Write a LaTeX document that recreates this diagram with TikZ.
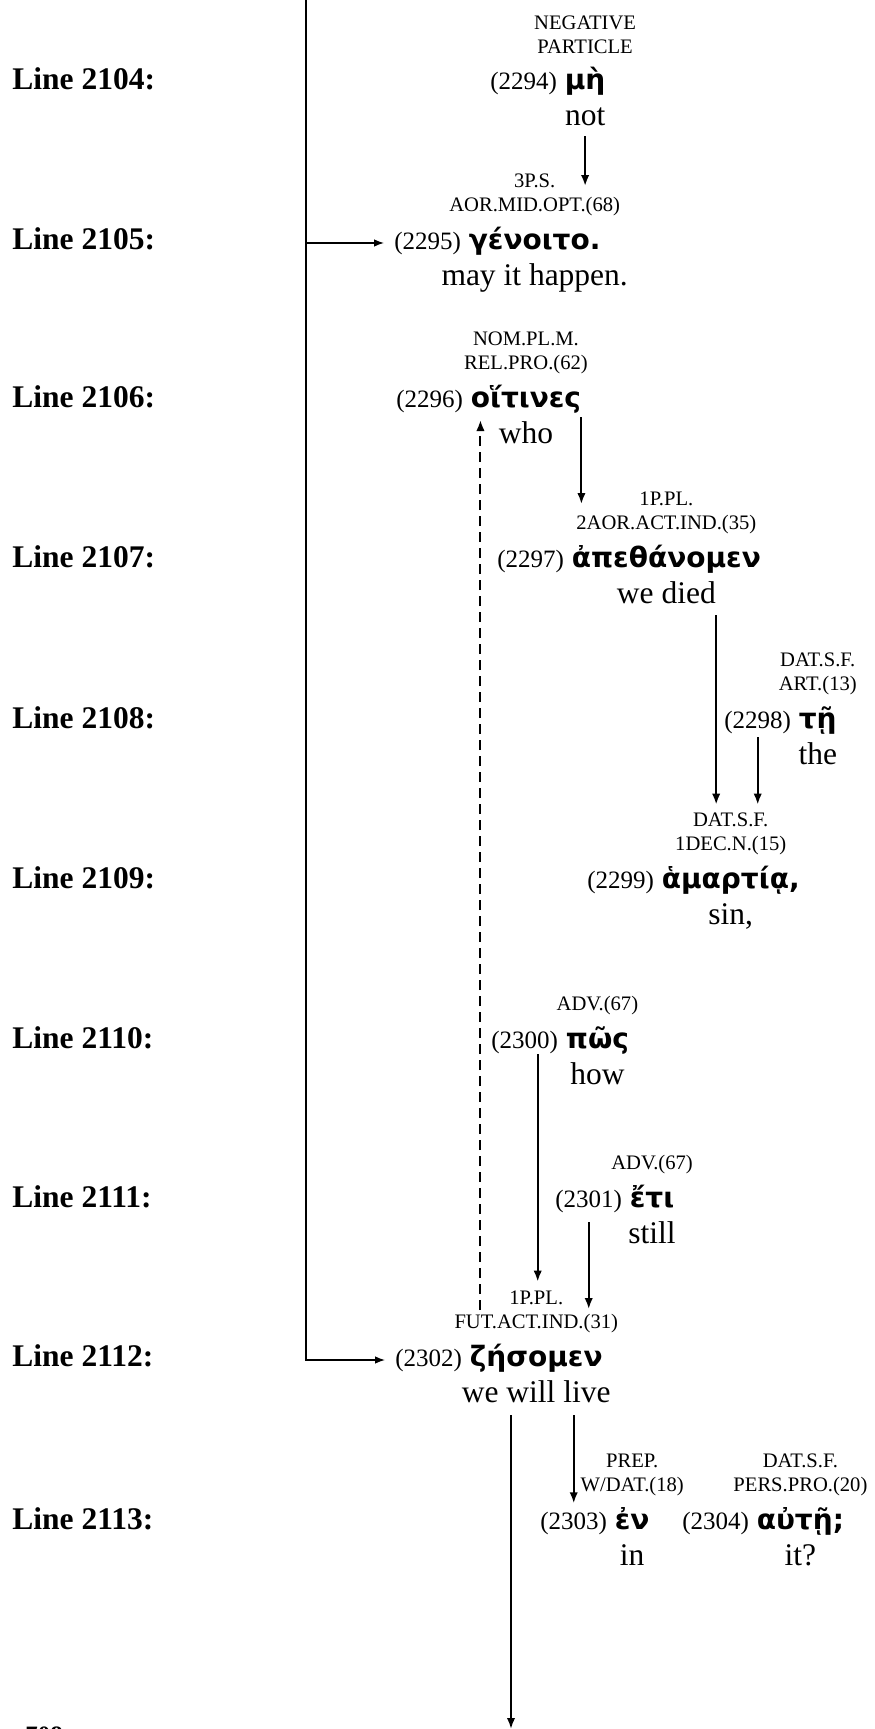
\documentclass[tikz,border=0pt]{standalone}
\usepackage{fontspec}
\setmainfont{Liberation Serif}
\newfontfamily\grk{DejaVu Sans}
\usepackage{tikz}
\usetikzlibrary{arrows.meta,positioning,calc}

\begin{document}
\begin{tikzpicture}[x=0.5pt, y=-0.5pt,
        linelabel/.style={font=\fontsize{15.75}{18}\selectfont\bfseries, inner sep=0pt, anchor=base west},
        num/.style={font=\fontsize{12.5}{15}\selectfont, inner sep=0pt, anchor=base west},
        grk/.style={font=\grk\bfseries\fontsize{14}{16}\selectfont, inner sep=0pt, anchor=base west},
        gloss/.style={font=\fontsize{15.75}{18}\selectfont, inner sep=0pt},
        tag/.style={font=\fontsize{10.3}{12}\selectfont, align=center, inner sep=0pt},
        arrow/.style={-{Latex[length=5.5pt,width=4.2pt]}, line width=1pt},
        link/.style={-{Latex[length=5pt,width=3.8pt]}, line width=0.7pt},
        back/.style={arrow, dash pattern=on 5pt off 3pt}
    ]
    \useasboundingbox (0,0) rectangle (874,1729);
    % Lines
    \node[linelabel] (l2104) at (12,89) {Line 2104:};
    \node[linelabel] (l2105) at (12,249) {Line 2105:};
    \node[linelabel] (l2106) at (12,407) {Line 2106:};
    \node[linelabel] (l2107) at (12,567) {Line 2107:};
    \node[linelabel] (l2108) at (12,728) {Line 2108:};
    \node[linelabel] (l2109) at (12,888) {Line 2109:};
    \node[linelabel] (l2110) at (12,1048) {Line 2110:};
    \node[linelabel] (l2111) at (12,1207) {Line 2111:};
    \node[linelabel] (l2112) at (12,1366) {Line 2112:};
    \node[linelabel] (l2113) at (12,1529) {Line 2113:};
    \node[font=\fontsize{12.5}{14}\selectfont\bfseries, inner sep=0pt, anchor=base west] (page) at (25,1743) {708};
    % Words
    \node[num] (n2294) at (490,89) {(2294)};
    \node[grk] (w2294) at ([xshift=3.5pt]n2294.base east) {μὴ};
    \node[gloss, below=18pt of w2294.base, anchor=base] (e2294) {not};
    \node[tag, above=27pt of w2294.base, anchor=center] (t2294) {NEGATIVE\\PARTICLE};

    \node[num] (n2295) at (394,249) {(2295)};
    \node[grk] (w2295) at ([xshift=3.5pt]n2295.base east) {γένοιτο.};
    \node[gloss, below=18pt of w2295.base, anchor=base] (e2295) {may it happen.};
    \node[tag, above=27pt of w2295.base, anchor=center] (t2295) {3P.S.\\AOR.MID.OPT.(68)};

    \node[num] (n2296) at (396,407) {(2296)};
    \node[grk] (w2296) at ([xshift=3.5pt]n2296.base east) {οἵτινες};
    \node[gloss, below=18pt of w2296.base, anchor=base] (e2296) {who};
    \node[tag, above=27pt of w2296.base, anchor=center] (t2296) {NOM.PL.M.\\REL.PRO.(62)};

    \node[num] (n2297) at (497,567) {(2297)};
    \node[grk] (w2297) at ([xshift=3.5pt]n2297.base east) {ἀπεθάνομεν};
    \node[gloss, below=18pt of w2297.base, anchor=base] (e2297) {we died};
    \node[tag, above=27pt of w2297.base, anchor=center] (t2297) {1P.PL.\\2AOR.ACT.IND.(35)};

    \node[num] (n2298) at (724,728) {(2298)};
    \node[grk] (w2298) at ([xshift=3.5pt]n2298.base east) {τῇ};
    \node[gloss, below=18pt of w2298.base, anchor=base] (e2298) {the};
    \node[tag, above=27pt of w2298.base, anchor=center] (t2298) {DAT.S.F.\\ART.(13)};

    \node[num] (n2299) at (587,888) {(2299)};
    \node[grk] (w2299) at ([xshift=3.5pt]n2299.base east) {ἁμαρτίᾳ,};
    \node[gloss, below=18pt of w2299.base, anchor=base] (e2299) {sin,};
    \node[tag, above=27pt of w2299.base, anchor=center] (t2299) {DAT.S.F.\\1DEC.N.(15)};

    \node[num] (n2300) at (491,1048) {(2300)};
    \node[grk] (w2300) at ([xshift=3.5pt]n2300.base east) {πῶς};
    \node[gloss, below=18pt of w2300.base, anchor=base] (e2300) {how};
    \node[tag, above=21pt of w2300.base, anchor=center] (t2300) {ADV.(67)};

    \node[num] (n2301) at (555,1207) {(2301)};
    \node[grk] (w2301) at ([xshift=3.5pt]n2301.base east) {ἔτι};
    \node[gloss, below=18pt of w2301.base, anchor=base] (e2301) {still};
    \node[tag, above=21pt of w2301.base, anchor=center] (t2301) {ADV.(67)};

    \node[num] (n2302) at (395,1366) {(2302)};
    \node[grk] (w2302) at ([xshift=3.5pt]n2302.base east) {ζήσομεν};
    \node[gloss, below=18pt of w2302.base, anchor=base] (e2302) {we will live};
    \node[tag, above=27pt of w2302.base, anchor=center] (t2302) {1P.PL.\\FUT.ACT.IND.(31)};

    \node[num] (n2303) at (540,1529) {(2303)};
    \node[grk] (w2303) at ([xshift=3.5pt]n2303.base east) {ἐν};
    \node[gloss, below=18pt of w2303.base, anchor=base] (e2303) {in};
    \node[tag, above=27pt of w2303.base, anchor=center] (t2303) {PREP.\\W/DAT.(18)};

    \node[num] (n2304) at (682,1529) {(2304)};
    \node[grk] (w2304) at ([xshift=3.5pt]n2304.base east) {αὐτῇ;};
    \node[gloss, below=18pt of w2304.base, anchor=base] (e2304) {it?};
    \node[tag, above=27pt of w2304.base, anchor=center] (t2304) {DAT.S.F.\\PERS.PRO.(20)};
    % Arrows
    \coordinate (top) at (306,0);
    \coordinate (foot) at (511,1729);
    \draw[link, shorten >=5pt] (top) |- (n2302.west);
    \draw[link, shorten >=5pt] (top |- n2295.west) -- (n2295.west);
    \draw[arrow, shorten <=5.5pt, shorten >=4.5pt] (e2294.base) -- (e2294.base |- t2295.center);
    \draw[arrow, shorten <=5pt, shorten >=4.5pt] (w2296.base east) -- (w2296.base east |- t2297.center);
    \draw[arrow, shorten <=6pt, shorten >=4pt] (e2297.base east) -- (e2297.base east |- t2299.north);
    \draw[arrow, shorten <=4.5pt, shorten >=4pt] (n2298.base) -- (n2298.base |- t2299.north);
    \draw[arrow, shorten <=3pt, shorten >=4.5pt] ($(n2300.base)+(6.5pt,0)$) -- ($(n2300.base |- t2302.north)+(6.5pt,0)$);
    \draw[arrow, shorten <=7.5pt, shorten >=1.5pt] (n2301.base) -- (n2301.base |- t2302.center);
    \draw[arrow, shorten <=6.5pt] (foot |- e2302.base) -- (foot);
    \draw[arrow, shorten <=6.5pt, shorten >=4pt] (n2303.north |- e2302.base) -- (n2303.north);
    \draw[back, shorten <=1pt, shorten >=6.5pt] ($(w2296.base west |- t2302.center)+(5pt,0)$) -- ($(w2296.base west)+(5pt,0)$);
\end{tikzpicture}
\end{document}
